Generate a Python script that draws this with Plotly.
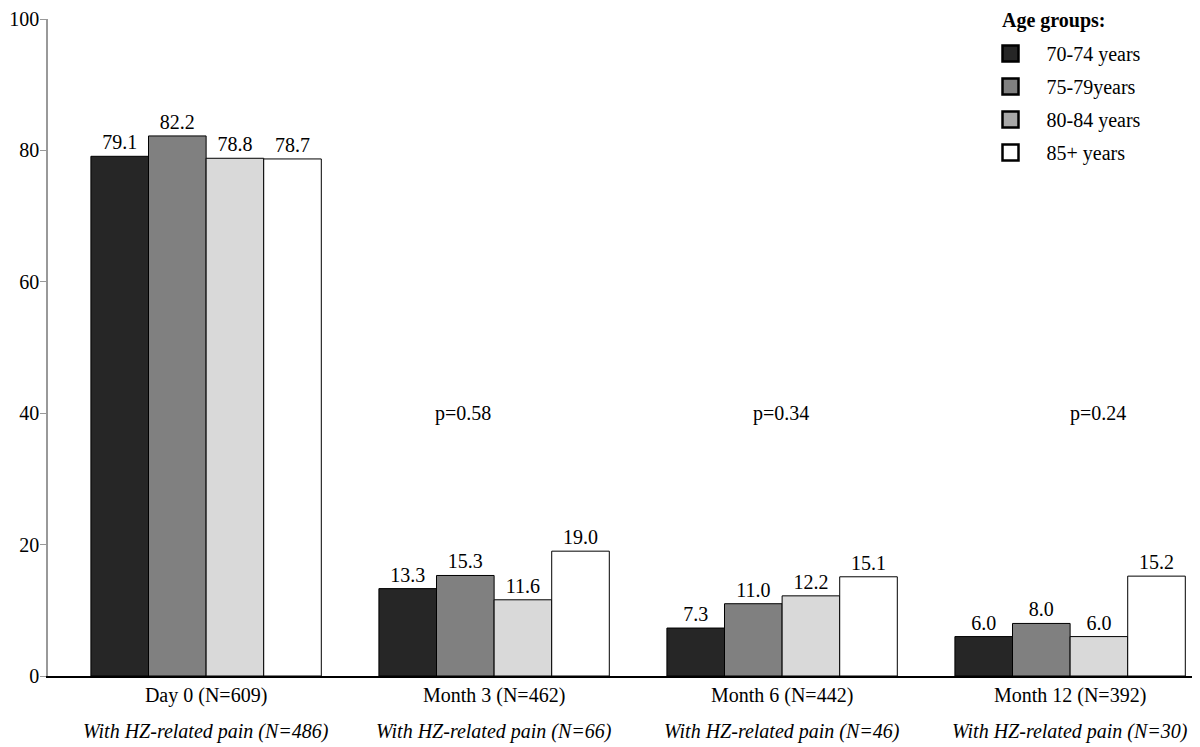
import plotly.graph_objects as go

categories = ["Day 0 (N=609)", "Month 3 (N=462)", "Month 6 (N=442)", "Month 12 (N=392)"]
subtitles = ["With HZ-related pain (N=486)", "With HZ-related pain (N=66)",
             "With HZ-related pain (N=46)", "With HZ-related pain (N=30)"]
series_names = ["70-74 years", "75-79years", "80-84 years", "85+ years"]
values = {
    "70-74 years": [79.1, 13.3, 7.3, 6.0],
    "75-79years": [82.2, 15.3, 11.0, 8.0],
    "80-84 years": [78.8, 11.6, 12.2, 6.0],
    "85+ years": [78.7, 19.0, 15.1, 15.2],
}
colors = ["#262626", "#808080", "#d9d9d9", "#ffffff"]
legend_colors = ["#262626", "#808080", "#a8a8a8", "#ffffff"]
p_labels = ["p=0.58", "p=0.34", "p=0.24"]
p_cats = [1, 2, 3]
p_offsets = [-0.108, -0.005, 0.097]
p_y = 40

FONT = "Liberation Serif, Times New Roman, serif"
FS = 20

# page body has an 8px margin; compensate so the plot area lands where the reference has it
OFF = 8
PLOT_L, PLOT_T, PLOT_B, PLOT_R = 48, 19, 676, 1200
W, H = 1200, 747
plot_h = PLOT_B - PLOT_T
plot_w = PLOT_R - PLOT_L

fig = go.Figure()
for i, name in enumerate(series_names):
    fig.add_trace(go.Bar(
        x=list(range(len(categories))),
        y=values[name],
        name=name,
        marker=dict(color=colors[i], line=dict(color="black", width=1)),
        text=[f"{v:.1f}" for v in values[name]],
        textposition="outside",
        textfont=dict(family=FONT, size=FS, color="black"),
        cliponaxis=False,
        showlegend=False,
    ))
# legend entries (larger square swatches, as in the reference legend)
for i, name in enumerate(series_names):
    fig.add_trace(go.Scatter(
        x=[None], y=[None], mode="markers", name=name,
        marker=dict(symbol="square", size=16, color=legend_colors[i],
                    line=dict(color="black", width=2.5)),
        legendgroup=f"g{i}", showlegend=True,
    ))

annotations = []
for c, lbl, off in zip(p_cats, p_labels, p_offsets):
    annotations.append(dict(x=c + off, y=p_y, xref="x", yref="y", text=lbl,
                            showarrow=False, font=dict(family=FONT, size=FS, color="black")))
for i, s in enumerate(subtitles):
    annotations.append(dict(x=i, y=-(731 - PLOT_B) / plot_h, xref="x", yref="paper",
                            text=f"<i>{s}</i>", showarrow=False, yanchor="middle",
                            font=dict(family=FONT, size=FS, color="black")))
annotations.append(dict(x=(1000 - PLOT_L) / plot_w, y=(PLOT_T - 20) / plot_h + 1,
                        xref="paper", yref="paper", xanchor="left", yanchor="middle",
                        text="<b>Age groups:</b>", showarrow=False,
                        font=dict(family=FONT, size=FS, color="black")))

fig.update_layout(
    width=W, height=H,
    margin=dict(l=PLOT_L - OFF, r=W - (PLOT_R - OFF), t=PLOT_T - OFF, b=H - (PLOT_B - OFF)),
    paper_bgcolor="white", plot_bgcolor="white",
    barmode="group", bargap=0.2, bargroupgap=0,
    font=dict(family=FONT, size=FS, color="black"),
    showlegend=True,
    legend=dict(
        x=(974.5 - PLOT_L) / plot_w, y=(PLOT_T - 34) / plot_h + 1,
        xanchor="left", yanchor="top",
        font=dict(family=FONT, size=FS), tracegroupgap=4, itemwidth=62,
        bgcolor="rgba(0,0,0,0)",
    ),
    annotations=annotations,
    xaxis=dict(
        range=[-0.549, 3.451], tickmode="array", tickvals=list(range(len(categories))),
        ticktext=categories, showline=True, linecolor="black", linewidth=1.5,
        ticks="", showgrid=False, zeroline=False, automargin=False,
        tickfont=dict(family=FONT, size=FS, color="black"),
    ),
    yaxis=dict(
        range=[0, 100], tickvals=[0, 20, 40, 60, 80, 100], showline=True,
        linecolor="#999999", linewidth=1.5, ticks="outside", ticklen=6, tickcolor="#999999",
        showgrid=False, zeroline=False, automargin=False, ticklabelstandoff=-3,
        tickfont=dict(family=FONT, size=FS, color="black"),
    ),
)

fig.write_html("out.html")
